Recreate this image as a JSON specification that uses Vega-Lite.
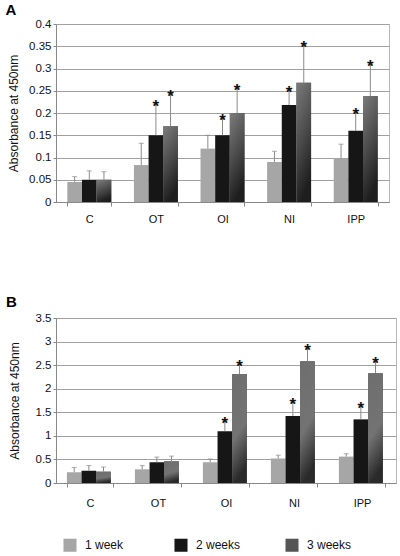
{
  "$schema": "https://vega.github.io/schema/vega-lite/v6.json",
  "background": "white",
  "padding": {"left": 5, "top": 2, "right": 3, "bottom": 2},
  "config": {
    "font": "Liberation Sans",
    "view": {"stroke": "#b8b8b8"},
    "axis": {"labelFont": "Liberation Sans", "titleFont": "Liberation Sans", "labelColor": "#111", "titleColor": "#111", "domainColor": "#888", "tickColor": "#888", "gridColor": "#a0a0a0", "labelOverlap": false},
    "title": {"font": "Liberation Sans"},
    "legend": {"title": null, "orient": "bottom", "direction": "horizontal", "symbolType": "square", "symbolSize": 170, "symbolStrokeWidth": 0, "labelFontSize": 12, "labelColor": "#111", "columnPadding": 44, "gridAlign": "all", "offset": 22, "padding": 7, "labelOffset": 8}
  },
  "datasets": {
    "A": [
      {"group": "C", "week": "1 week", "value": 0.045, "err": 0.057, "sig": false},
      {"group": "C", "week": "2 weeks", "value": 0.05, "err": 0.07, "sig": false},
      {"group": "C", "week": "3 weeks", "value": 0.05, "err": 0.068, "sig": false},
      {"group": "OT", "week": "1 week", "value": 0.083, "err": 0.132, "sig": false},
      {"group": "OT", "week": "2 weeks", "value": 0.15, "err": 0.22, "sig": true},
      {"group": "OT", "week": "3 weeks", "value": 0.17, "err": 0.243, "sig": true},
      {"group": "OI", "week": "1 week", "value": 0.12, "err": 0.15, "sig": false},
      {"group": "OI", "week": "2 weeks", "value": 0.15, "err": 0.188, "sig": true},
      {"group": "OI", "week": "3 weeks", "value": 0.2, "err": 0.256, "sig": true},
      {"group": "NI", "week": "1 week", "value": 0.09, "err": 0.114, "sig": false},
      {"group": "NI", "week": "2 weeks", "value": 0.218, "err": 0.252, "sig": true},
      {"group": "NI", "week": "3 weeks", "value": 0.268, "err": 0.353, "sig": true},
      {"group": "IPP", "week": "1 week", "value": 0.098, "err": 0.13, "sig": false},
      {"group": "IPP", "week": "2 weeks", "value": 0.16, "err": 0.202, "sig": true},
      {"group": "IPP", "week": "3 weeks", "value": 0.238, "err": 0.31, "sig": true}
    ],
    "B": [
      {"group": "C", "week": "1 week", "value": 0.23, "err": 0.33, "sig": false},
      {"group": "C", "week": "2 weeks", "value": 0.26, "err": 0.37, "sig": false},
      {"group": "C", "week": "3 weeks", "value": 0.24, "err": 0.34, "sig": false},
      {"group": "OT", "week": "1 week", "value": 0.29, "err": 0.37, "sig": false},
      {"group": "OT", "week": "2 weeks", "value": 0.44, "err": 0.55, "sig": false},
      {"group": "OT", "week": "3 weeks", "value": 0.46, "err": 0.57, "sig": false},
      {"group": "OI", "week": "1 week", "value": 0.44, "err": 0.51, "sig": false},
      {"group": "OI", "week": "2 weeks", "value": 1.1, "err": 1.32, "sig": true},
      {"group": "OI", "week": "3 weeks", "value": 2.31, "err": 2.52, "sig": true},
      {"group": "NI", "week": "1 week", "value": 0.52, "err": 0.59, "sig": false},
      {"group": "NI", "week": "2 weeks", "value": 1.42, "err": 1.71, "sig": true},
      {"group": "NI", "week": "3 weeks", "value": 2.58, "err": 2.86, "sig": true},
      {"group": "IPP", "week": "1 week", "value": 0.56, "err": 0.62, "sig": false},
      {"group": "IPP", "week": "2 weeks", "value": 1.35, "err": 1.63, "sig": true},
      {"group": "IPP", "week": "3 weeks", "value": 2.33, "err": 2.58, "sig": true}
    ]
  },
  "vconcat": [
    {
      "title": {"text": "A", "anchor": "start", "frame": "bounds", "fontSize": 15, "fontWeight": "bold", "offset": 0, "dx": -2},
      "width": 333,
      "height": 178,
      "data": {"name": "A"},
      "encoding": {
        "x": {"field": "group", "type": "nominal", "sort": ["C", "OT", "OI", "NI", "IPP"], "scale": {"paddingInner": 0.34, "paddingOuter": 0.17}, "axis": {"title": null, "labelAngle": 0, "labelFontSize": 11, "labelPadding": 7, "tickBand": "extent", "tickSize": 4}},
        "xOffset": {"field": "week", "type": "nominal", "sort": ["1 week", "2 weeks", "3 weeks"]}
      },
      "layer": [
        {
          "mark": {"type": "bar"},
          "encoding": {
            "y": {"field": "value", "type": "quantitative", "scale": {"domain": [0, 0.4]}, "axis": {"values": [0, 0.05, 0.1, 0.15, 0.2, 0.25, 0.3, 0.35, 0.4], "format": "~g", "title": "Absorbance at 450nm", "titleFontSize": 12, "titleFontWeight": "normal", "labelFontSize": 11.5, "tickSize": 3, "titlePadding": 8}},
            "color": {"field": "week", "type": "nominal", "sort": ["1 week", "2 weeks", "3 weeks"], "scale": {"domain": ["1 week", "2 weeks", "3 weeks"], "range": ["#a6a6a6", "#161616", "#555555"]}}
          }
        },
        {
          "transform": [{"filter": "datum.week === '3 weeks'"}],
          "mark": {"type": "bar", "color": {"gradient": "linear", "x1": 0, "y1": 0, "x2": 0.3, "y2": 1, "stops": [{"offset": 0, "color": "#7c7c7c"}, {"offset": 0.55, "color": "#4a4a4a"}, {"offset": 1, "color": "#1e1e1e"}]}},
          "encoding": {
            "y": {"field": "value", "type": "quantitative", "scale": {"domain": [0, 0.4]}, "axis": {"values": [0, 0.05, 0.1, 0.15, 0.2, 0.25, 0.3, 0.35, 0.4], "format": "~g", "title": "Absorbance at 450nm", "titleFontSize": 12, "titleFontWeight": "normal", "labelFontSize": 11.5, "tickSize": 3, "titlePadding": 8}}
          }
        },
        {
          "mark": {"type": "rule", "color": "#8a8a8a", "strokeWidth": 1},
          "encoding": {"y": {"field": "value", "type": "quantitative", "scale": {"domain": [0, 0.4]}, "axis": {"values": [0, 0.05, 0.1, 0.15, 0.2, 0.25, 0.3, 0.35, 0.4], "format": "~g", "title": "Absorbance at 450nm", "titleFontSize": 12, "titleFontWeight": "normal", "labelFontSize": 11.5, "tickSize": 3, "titlePadding": 8}}, "y2": {"field": "err"}}
        },
        {
          "mark": {"type": "tick", "color": "#8a8a8a", "thickness": 1, "size": 5},
          "encoding": {"y": {"field": "err", "type": "quantitative", "scale": {"domain": [0, 0.4]}, "axis": {"values": [0, 0.05, 0.1, 0.15, 0.2, 0.25, 0.3, 0.35, 0.4], "format": "~g", "title": "Absorbance at 450nm", "titleFontSize": 12, "titleFontWeight": "normal", "labelFontSize": 11.5, "tickSize": 3, "titlePadding": 8}}}
        },
        {
          "transform": [{"filter": "datum.sig"}],
          "mark": {"type": "text", "text": "*", "fontSize": 17, "fontWeight": "bold", "baseline": "alphabetic", "dy": 8, "color": "#111"},
          "encoding": {"y": {"field": "err", "type": "quantitative", "scale": {"domain": [0, 0.4]}, "axis": {"values": [0, 0.05, 0.1, 0.15, 0.2, 0.25, 0.3, 0.35, 0.4], "format": "~g", "title": "Absorbance at 450nm", "titleFontSize": 12, "titleFontWeight": "normal", "labelFontSize": 11.5, "tickSize": 3, "titlePadding": 8}}}
        }
      ]
    },
    {
      "title": {"text": "B", "anchor": "start", "frame": "bounds", "fontSize": 15, "fontWeight": "bold", "offset": 2, "dx": -2},
      "width": 340,
      "height": 165,
      "data": {"name": "B"},
      "encoding": {
        "x": {"field": "group", "type": "nominal", "sort": ["C", "OT", "OI", "NI", "IPP"], "scale": {"paddingInner": 0.32, "paddingOuter": 0.16}, "axis": {"title": null, "labelAngle": 0, "labelFontSize": 11, "labelPadding": 10, "tickBand": "extent", "tickSize": 4}},
        "xOffset": {"field": "week", "type": "nominal", "sort": ["1 week", "2 weeks", "3 weeks"]}
      },
      "layer": [
        {
          "mark": {"type": "bar"},
          "encoding": {
            "y": {"field": "value", "type": "quantitative", "scale": {"domain": [0, 3.5]}, "axis": {"values": [0, 0.5, 1, 1.5, 2, 2.5, 3, 3.5], "format": "~g", "title": "Absorbance at 450nm", "titleFontSize": 12, "titleFontWeight": "normal", "labelFontSize": 11.5, "tickSize": 3, "titlePadding": 14}},
            "color": {"field": "week", "type": "nominal", "sort": ["1 week", "2 weeks", "3 weeks"], "scale": {"domain": ["1 week", "2 weeks", "3 weeks"], "range": ["#a6a6a6", "#161616", "#555555"]}}
          }
        },
        {
          "transform": [{"filter": "datum.week === '3 weeks'"}],
          "mark": {"type": "bar", "color": {"gradient": "linear", "x1": 0, "y1": 0, "x2": 0.2, "y2": 1, "stops": [{"offset": 0, "color": "#6e6e6e"}, {"offset": 0.6, "color": "#737373"}, {"offset": 1, "color": "#2a2a2a"}]}},
          "encoding": {
            "y": {"field": "value", "type": "quantitative", "scale": {"domain": [0, 3.5]}, "axis": {"values": [0, 0.5, 1, 1.5, 2, 2.5, 3, 3.5], "format": "~g", "title": "Absorbance at 450nm", "titleFontSize": 12, "titleFontWeight": "normal", "labelFontSize": 11.5, "tickSize": 3, "titlePadding": 14}}
          }
        },
        {
          "mark": {"type": "rule", "color": "#8a8a8a", "strokeWidth": 1},
          "encoding": {"y": {"field": "value", "type": "quantitative", "scale": {"domain": [0, 3.5]}, "axis": {"values": [0, 0.5, 1, 1.5, 2, 2.5, 3, 3.5], "format": "~g", "title": "Absorbance at 450nm", "titleFontSize": 12, "titleFontWeight": "normal", "labelFontSize": 11.5, "tickSize": 3, "titlePadding": 14}}, "y2": {"field": "err"}}
        },
        {
          "mark": {"type": "tick", "color": "#8a8a8a", "thickness": 1, "size": 5},
          "encoding": {"y": {"field": "err", "type": "quantitative", "scale": {"domain": [0, 3.5]}, "axis": {"values": [0, 0.5, 1, 1.5, 2, 2.5, 3, 3.5], "format": "~g", "title": "Absorbance at 450nm", "titleFontSize": 12, "titleFontWeight": "normal", "labelFontSize": 11.5, "tickSize": 3, "titlePadding": 14}}}
        },
        {
          "transform": [{"filter": "datum.sig"}],
          "mark": {"type": "text", "text": "*", "fontSize": 17, "fontWeight": "bold", "baseline": "alphabetic", "dy": 8, "color": "#111"},
          "encoding": {"y": {"field": "err", "type": "quantitative", "scale": {"domain": [0, 3.5]}, "axis": {"values": [0, 0.5, 1, 1.5, 2, 2.5, 3, 3.5], "format": "~g", "title": "Absorbance at 450nm", "titleFontSize": 12, "titleFontWeight": "normal", "labelFontSize": 11.5, "tickSize": 3, "titlePadding": 14}}}
        }
      ]
    }
  ],
  "spacing": 69,
  "resolve": {"scale": {"color": "shared"}}
}
